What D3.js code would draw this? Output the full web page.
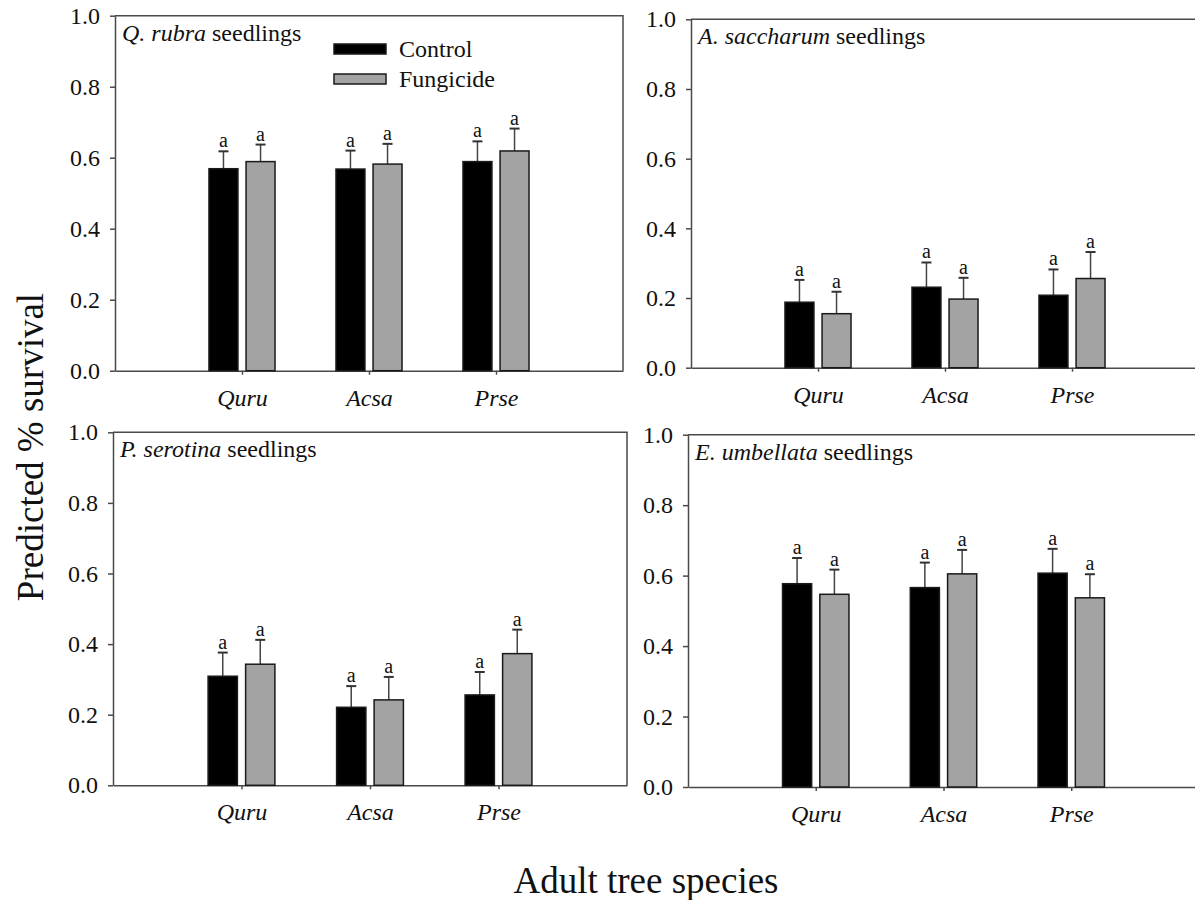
<!DOCTYPE html>
<html>
<head>
<meta charset="utf-8">
<script src="https://cdn.jsdelivr.net/npm/d3@7"></script>
<style>
  html, body { margin: 0; padding: 0; background: #fff; }
  svg { display: block; }
  text { font-family: "Liberation Serif", "Times New Roman", serif; fill: #111; }
</style>
</head>
<body>
<svg id="chart" width="1195" height="900"></svg>
<script>
// ---- data ----
const categories = ["Quru", "Acsa", "Prse"];
const seriesNames = ["Control", "Fungicide"];
const yTicks = [0, 0.2, 0.4, 0.6, 0.8, 1.0];

const panelGenus = ["Q.", "A.", "P.", "E."];
const panelSpecies = ["rubra", "saccharum", "serotina", "umbellata"];

const controlMean = [
  [0.569, 0.568, 0.589],
  [0.188, 0.231, 0.208],
  [0.309, 0.221, 0.256],
  [0.577, 0.566, 0.607]
];
const controlSE = [
  [0.049, 0.052, 0.057],
  [0.064, 0.071, 0.074],
  [0.067, 0.060, 0.065],
  [0.073, 0.071, 0.069]
];
const fungicideMean = [
  [0.589, 0.582, 0.619],
  [0.155, 0.197, 0.256],
  [0.343, 0.242, 0.373],
  [0.547, 0.605, 0.537]
];
const fungicideSE = [
  [0.048, 0.057, 0.063],
  [0.063, 0.061, 0.076],
  [0.069, 0.065, 0.068],
  [0.070, 0.068, 0.067]
];
const controlLetters = [["a","a","a"],["a","a","a"],["a","a","a"],["a","a","a"]];
const fungicideLetters = [["a","a","a"],["a","a","a"],["a","a","a"],["a","a","a"]];

// ---- layout ----
const panelBoxes = [
  { x0: 115, x1: 623, yTop: 15.7, yBot: 370.7 },
  { x0: 691, x1: 1199, yTop: 19.3, yBot: 367.7 },
  { x0: 113, x1: 627, yTop: 432.3, yBot: 785.3 },
  { x0: 688, x1: 1199, yTop: 434.7, yBot: 787 }
];
const fills = ["#000000", "#a3a3a3"];
const axisColor = "#4a4a4a";
const barOffset = 0.146, barWidth = 0.228;
const FONT = "Liberation Serif, Times New Roman, serif";

const svg = d3.select("#chart");

panelBoxes.forEach((b, p) => {
  const x = d3.scaleLinear().domain([0, 4]).range([b.x0, b.x1]);
  const y = d3.scaleLinear().domain([0, 1]).range([b.yBot, b.yTop]);
  const g = svg.append("g");

  // frame (top and right)
  g.append("path")
    .attr("d", `M${b.x0},${y(1)}H${b.x1}V${y(0)}`)
    .attr("fill", "none").attr("stroke", axisColor).attr("stroke-width", 1.5);

  // y axis
  const ya = g.append("g").attr("transform", `translate(${b.x0},0)`)
    .call(d3.axisLeft(y).tickValues(yTicks).tickFormat(d3.format(".1f")).tickSize(5).tickSizeOuter(0).tickPadding(10));
  ya.attr("font-family", FONT);
  ya.select(".domain").attr("stroke", axisColor).attr("stroke-width", 1.5);
  ya.selectAll(".tick line").attr("stroke", axisColor).attr("stroke-width", 1.5);
  ya.selectAll(".tick text").attr("font-size", 24).attr("fill", "#111");

  // x axis
  const xa = g.append("g").attr("transform", `translate(0,${y(0)})`)
    .call(d3.axisBottom(x).tickValues([1, 2, 3]).tickFormat(i => categories[i - 1]).tickSize(4).tickSizeOuter(0).tickPadding(14));
  xa.attr("font-family", FONT);
  xa.select(".domain").attr("stroke", axisColor).attr("stroke-width", 1.5);
  xa.selectAll(".tick line").attr("stroke", axisColor).attr("stroke-width", 1.5);
  xa.selectAll(".tick text").attr("font-size", 24).attr("font-style", "italic").attr("fill", "#111");

  const series = [
    { mean: controlMean[p], se: controlSE[p], letters: controlLetters[p], off: -barOffset, fill: fills[0] },
    { mean: fungicideMean[p], se: fungicideSE[p], letters: fungicideLetters[p], off: barOffset, fill: fills[1] }
  ];
  series.forEach(s => {
    const data = categories.map((c, i) => ({ i, m: s.mean[i], e: s.se[i], l: s.letters[i] }));
    const cx = d => x(d.i + 1 + s.off);
    const hw = (x(barWidth) - x(0)) / 2;
    // error bars (upper only)
    g.selectAll(null).data(data).enter().append("line")
      .attr("x1", cx).attr("x2", cx)
      .attr("y1", d => y(d.m)).attr("y2", d => y(d.m + d.e))
      .attr("stroke", "#444").attr("stroke-width", 1.5);
    g.selectAll(null).data(data).enter().append("line")
      .attr("x1", d => cx(d) - 5).attr("x2", d => cx(d) + 5)
      .attr("y1", d => y(d.m + d.e)).attr("y2", d => y(d.m + d.e))
      .attr("stroke", "#333").attr("stroke-width", 2);
    // bars
    g.selectAll(null).data(data).enter().append("rect")
      .attr("x", d => cx(d) - hw).attr("width", 2 * hw)
      .attr("y", d => y(d.m)).attr("height", d => y(0) - y(d.m))
      .attr("fill", s.fill).attr("stroke", "#1a1a1a").attr("stroke-width", 1.5);
    // letters
    g.selectAll(null).data(data).enter().append("text")
      .attr("x", cx).attr("y", d => y(d.m + d.e) - 4)
      .attr("text-anchor", "middle").attr("font-size", 20)
      .text(d => d.l);
  });

  // panel title
  const t = g.append("text").attr("x", b.x0 + 7).attr("y", b.yTop + 25).attr("font-size", 24);
  t.append("tspan").attr("font-style", "italic").text(panelGenus[p] + " " + panelSpecies[p]);
  t.append("tspan").text(" seedlings");
});

// legend in first panel
const legend = svg.append("g");
seriesNames.forEach((n, i) => {
  const yy = 44 + i * 30;
  legend.append("rect").attr("x", 334).attr("y", yy).attr("width", 52).attr("height", 10)
    .attr("fill", fills[i]).attr("stroke", "#1a1a1a").attr("stroke-width", 1.5);
  legend.append("text").attr("x", 399).attr("y", yy + 13).attr("font-size", 24).text(n);
});

// axis titles
svg.append("text").attr("transform", "translate(43,447) rotate(-90)")
  .attr("text-anchor", "middle").attr("font-size", 37).text("Predicted % survival");
svg.append("text").attr("x", 646).attr("y", 893)
  .attr("text-anchor", "middle").attr("font-size", 37).text("Adult tree species");
</script>
</body>
</html>
